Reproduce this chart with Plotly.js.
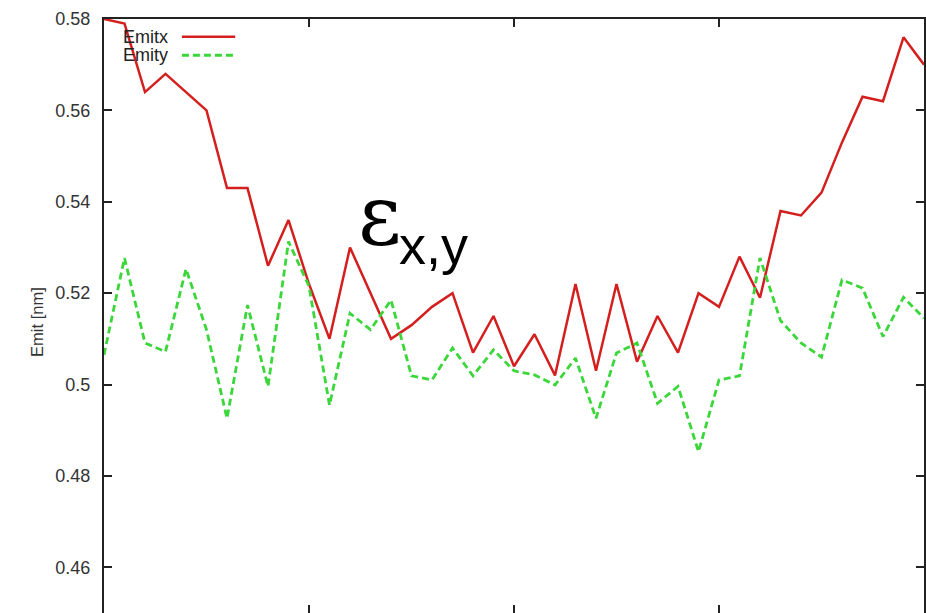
<!DOCTYPE html>
<html>
<head>
<meta charset="utf-8">
<script src="https://cdn.plot.ly/plotly-3.0.1.min.js"></script>
<style>
  html, body { margin: 0; padding: 0; background: #fff; overflow: hidden; }
  #chart { width: 926px; height: 613px; }
</style>
</head>
<body>
<div id="chart"></div>
<script>
// Turn index along the horizontal axis
const turns = [0, 1, 2, 3, 4, 5, 6, 7, 8, 9, 10, 11, 12, 13, 14, 15, 16, 17, 18, 19, 20,
               21, 22, 23, 24, 25, 26, 27, 28, 29, 30, 31, 32, 33, 34, 35, 36, 37, 38, 39, 40];

// Horizontal emittance [nm]
const emitX = [0.580, 0.579, 0.564, 0.568, 0.564, 0.560, 0.543, 0.543, 0.526, 0.536,
               0.522, 0.510, 0.530, 0.520, 0.510, 0.513, 0.517, 0.520, 0.507, 0.515,
               0.504, 0.511, 0.502, 0.522, 0.503, 0.522, 0.505, 0.515, 0.507, 0.520,
               0.517, 0.528, 0.519, 0.538, 0.537, 0.542, 0.553, 0.563, 0.562, 0.576,
               0.570];

// Vertical emittance [nm]
const emitY = [0.5065, 0.5277, 0.5091, 0.5072, 0.5253, 0.5120, 0.4926, 0.5174, 0.4996, 0.5313,
               0.5215, 0.4955, 0.5156, 0.5120, 0.5185, 0.5019, 0.5010, 0.5080, 0.5019, 0.5076,
               0.5030, 0.5021, 0.4999, 0.5058, 0.4926, 0.5069, 0.5091, 0.4959, 0.4996, 0.4853,
               0.5010, 0.5019, 0.5277, 0.5140, 0.5091, 0.5060, 0.5229, 0.5211, 0.5105, 0.5191,
               0.5145];

// Axis ticks
const xTicks = [0, 10, 20, 30, 40];
const yTickVals = [0.46, 0.48, 0.50, 0.52, 0.54, 0.56, 0.58];
const yTickText = ['0.46', '0.48', '0.5', '0.52', '0.54', '0.56', '0.58'];

// Series names and axis label
const seriesNames = ['Emitx', 'Emity'];
const yLabel = 'Emit [nm]';

const RED = '#d41f1f';
const GREEN = '#3ad63a';
const GREEN_DASH = '7px,4px';

const traces = [
  {
    x: turns, y: emitX, name: seriesNames[0], type: 'scatter', mode: 'lines',
    line: { color: RED, width: 2.5 }
  },
  {
    x: turns, y: emitY, name: seriesNames[1], type: 'scatter', mode: 'lines',
    line: { color: GREEN, width: 2.8, dash: GREEN_DASH }
  }
];

// Key placed gnuplot-style: right-aligned label, line sample after it
const keyTextX = 0.0805;
const keySampleX0 = 0.095, keySampleX1 = 0.160;
const keyRowY = [0.970, 0.939];

const layout = {
  width: 926, height: 613,
  margin: { l: 104, r: 2, t: 19, b: 0, pad: 0 },
  paper_bgcolor: '#ffffff', plot_bgcolor: '#ffffff',
  showlegend: false,
  font: { family: 'Liberation Sans, Arial, sans-serif', color: '#222' },
  xaxis: {
    range: [0, 40], tickvals: xTicks, showticklabels: false,
    ticks: 'inside', ticklen: 8, tickwidth: 2, tickcolor: '#222',
    showline: true, linecolor: '#222', linewidth: 2, mirror: 'allticks',
    showgrid: false, zeroline: false, fixedrange: true
  },
  yaxis: {
    range: [0.45, 0.58], tickvals: yTickVals, ticktext: yTickText,
    ticks: 'inside', ticklen: 8, tickwidth: 2, tickcolor: '#222',
    ticklabelstandoff: 8,
    tickfont: { size: 18, color: '#333', family: 'Liberation Sans, Arial, sans-serif' },
    showline: true, linecolor: '#222', linewidth: 2, mirror: 'allticks',
    showgrid: false, zeroline: false, fixedrange: true
  },
  shapes: [
    { type: 'line', xref: 'paper', yref: 'paper', x0: keySampleX0, x1: keySampleX1,
      y0: keyRowY[0], y1: keyRowY[0], line: { color: RED, width: 2.5 } },
    { type: 'line', xref: 'paper', yref: 'paper', x0: keySampleX0, x1: keySampleX1,
      y0: keyRowY[1], y1: keyRowY[1], line: { color: GREEN, width: 2.8, dash: GREEN_DASH } }
  ],
  annotations: [
    // Vertical axis label
    { xref: 'paper', yref: 'paper', x: -0.0817, y: 0.49, xanchor: 'center', yanchor: 'middle',
      text: yLabel, textangle: -90, showarrow: false,
      font: { size: 16.5, color: '#333', family: 'Liberation Sans, Arial, sans-serif' } },
    // Key labels
    { xref: 'paper', yref: 'paper', x: keyTextX, y: keyRowY[0], xanchor: 'right', yanchor: 'middle',
      text: seriesNames[0], showarrow: false, font: { size: 18, color: '#222' } },
    { xref: 'paper', yref: 'paper', x: keyTextX, y: keyRowY[1], xanchor: 'right', yanchor: 'middle',
      text: seriesNames[1], showarrow: false, font: { size: 18, color: '#222' } },
    // Emittance symbol label
    { xref: 'paper', yref: 'paper', x: 0.3073, y: 0.6700, xanchor: 'left', yanchor: 'middle',
      text: 'ε', showarrow: false,
      font: { size: 84, color: '#000', family: 'DejaVu Serif, serif' } },
    { xref: 'paper', yref: 'paper', x: 0.357, y: 0.6200, xanchor: 'left', yanchor: 'middle',
      text: 'x,y', showarrow: false,
      font: { size: 54, color: '#000', family: 'Liberation Sans, Arial, sans-serif' } }
  ]
};

Plotly.newPlot('chart', traces, layout, { displayModeBar: false, staticPlot: true });
</script>
</body>
</html>
